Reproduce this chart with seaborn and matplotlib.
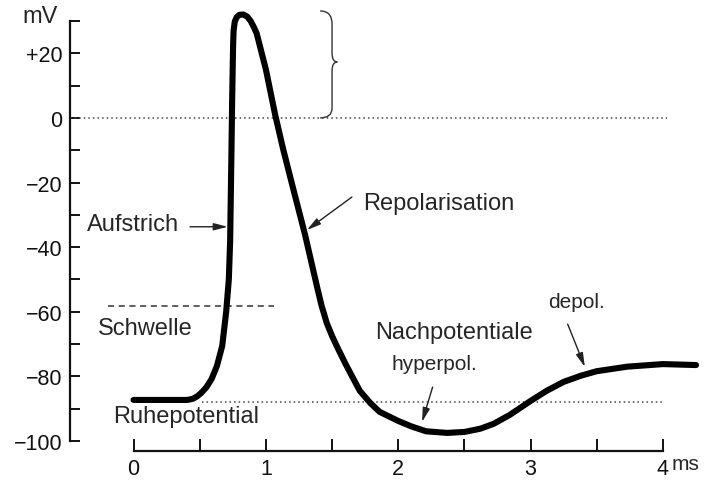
import numpy as np
import matplotlib
matplotlib.use("Agg")
import matplotlib.pyplot as plt
import pandas as pd
import seaborn as sns
from matplotlib.path import Path
from matplotlib.patches import PathPatch

# action potential trace (time in ms, membrane potential in mV)
time_ms = [0.0, 0.40, 0.42, 0.45, 0.48, 0.51, 0.55, 0.59, 0.63, 0.67, 0.70, 0.72,
           0.73, 0.74, 0.745, 0.752, 0.756, 0.765, 0.78, 0.80, 0.83, 0.86,
           0.885, 0.91, 0.93, 1.00, 1.07, 1.13, 1.21, 1.295, 1.385, 1.42,
           1.46, 1.50, 1.54, 1.60, 1.645, 1.71, 1.79, 1.86, 2.00, 2.10, 2.21,
           2.37, 2.50, 2.62, 2.72, 2.84, 3.00, 3.12, 3.25, 3.38, 3.50,
           3.73, 4.00, 4.25]
voltage_mv = [-87.3, -87.3, -87.2, -86.9, -86.2, -85.2, -83.4, -80.8, -76.8, -70.6, -60.0, -50.0,
              -38.0, -10.0, 5.0, 22.0, 27.0, 29.8, 31.2, 31.9, 32.0, 31.3,
              30.0, 28.0, 26.2, 15.0, 1.0, -9.6, -22.5, -36.0, -52.0, -58.0,
              -63.5, -67.5, -71.0, -76.0, -79.5, -84.5, -88.3, -91.0, -93.8, -95.5, -97.0,
              -97.5, -97.2, -96.2, -94.7, -92.0, -87.6, -84.5, -81.7, -79.8, -78.4,
              -77.0, -76.2, -76.5]

rest_mv = -88.0
threshold_mv = -58.3

y_major = [20, 0, -20, -40, -60, -80, -100]
y_labels = ["+20", "0", "\u221220", "\u221240", "\u221260", "\u221280", "\u2212100"]
y_minor = [30, 10, -10, -30, -50, -70, -90]
x_major = [0, 1, 2, 3, 4]
x_labels = ["0", "1", "2", "3", "4"]
x_minor = [0.5, 1.5, 2.5, 3.5]

sns.set_theme(style="ticks")
plt.rcParams["font.family"] = ["Liberation Sans", "DejaVu Sans"]

fig = plt.figure(figsize=(7.04, 4.81), dpi=100)
ax = fig.add_axes([70 / 704, 1 - 452 / 481, 630 / 704, 442 / 481])
ax.set_xlim(-0.48, 4.28)
ax.set_ylim(-103.1, 33.7)

# reference lines
ax.axhline(0, xmin=0, xmax=(4.03 + 0.48) / 4.76, color="#444444", lw=1.1,
           ls=(0, (1, 2.0)), zorder=1)
ax.plot([0.52, 4.0], [rest_mv, rest_mv], color="#444444", lw=1.1,
        ls=(0, (1, 2.0)), zorder=1)
ax.plot([-0.19, 1.06], [threshold_mv, threshold_mv], color="#333333", lw=1.1,
        ls=(0, (4, 3)), zorder=1)

df = pd.DataFrame({"t": time_ms, "v": voltage_mv})
sns.lineplot(data=df, x="t", y="v", sort=False, estimator=None, color="black",
             lw=4.4, ax=ax, zorder=3, solid_capstyle="round", solid_joinstyle="round")

# brace above the 0 line (overshoot)
brace = Path(
    [(1.41, 33.1), (1.50, 33.1), (1.50, 29.0),
     (1.50, 20.0),
     (1.50, 17.3), (1.54, 17.3),
     (1.50, 17.3), (1.50, 14.6),
     (1.50, 3.0),
     (1.50, 0.0), (1.41, 0.0)],
    [Path.MOVETO, Path.CURVE3, Path.CURVE3,
     Path.LINETO,
     Path.CURVE3, Path.CURVE3,
     Path.CURVE3, Path.CURVE3,
     Path.LINETO,
     Path.CURVE3, Path.CURVE3])
ax.add_patch(PathPatch(brace, fill=False, lw=1.0, color="#333333"))

label_size = 17
small_size = 15
arrow = dict(arrowstyle="-|>,head_length=0.7,head_width=0.18", lw=1.0, color="#222222",
             shrinkA=0, shrinkB=0)

ax.text(-0.351, -34.7, "Aufstrich", fontsize=label_size, va="baseline")
ax.annotate("", xy=(0.712, -33.7), xytext=(0.427, -33.7), arrowprops=arrow)
ax.text(1.733, -28.2, "Repolarisation", fontsize=label_size, va="baseline")
ax.annotate("", xy=(1.31, -34.7), xytext=(1.65, -24.5), arrowprops=arrow)
ax.text(-0.268, -66.9, "Schwelle", fontsize=label_size, va="baseline")
ax.text(-0.155, -94.1, "Ruhepotential", fontsize=label_size, va="baseline")
ax.text(1.824, -68.1, "Nachpotentiale", fontsize=label_size, va="baseline")
ax.text(1.952, -77.7, "hyperpol.", fontsize=small_size, va="baseline")
ax.annotate("", xy=(2.18, -94.1), xytext=(2.26, -83.3), arrowprops=arrow)
ax.text(3.13, -58.5, "depol.", fontsize=small_size, va="baseline")
ax.annotate("", xy=(3.41, -77.1), xytext=(3.28, -63.8), arrowprops=arrow)

fig.text(22 / 704, 1 - 17 / 481, "mV", fontsize=label_size, va="center", ha="left")
fig.text(672 / 704, 1 - 465 / 481, "ms", fontsize=small_size, va="center", ha="left")

# axes styling
ax.set_yticks(y_major, y_labels)
ax.set_yticks(y_minor, minor=True)
ax.set_xticks(x_major, x_labels)
ax.set_xticks(x_minor, minor=True)
ax.tick_params(axis="y", which="both", direction="in", length=7.5, width=1.4,
               pad=5.5, labelsize=15.5, colors="#111111")
ax.tick_params(axis="x", which="both", direction="in", length=8.5, width=1.4,
               pad=5, labelsize=15.5, colors="#111111")
ax.set_xlabel("")
ax.set_ylabel("")
for side in ["top", "right"]:
    ax.spines[side].set_visible(False)
ax.spines["left"].set_bounds(-100, 30)
ax.spines["bottom"].set_bounds(0, 4)
for side in ["left", "bottom"]:
    ax.spines[side].set_linewidth(1.6)
    ax.spines[side].set_color("#111111")
ax.set_facecolor("white")
fig.patch.set_facecolor("white")

fig.savefig("out.png", dpi=100)
